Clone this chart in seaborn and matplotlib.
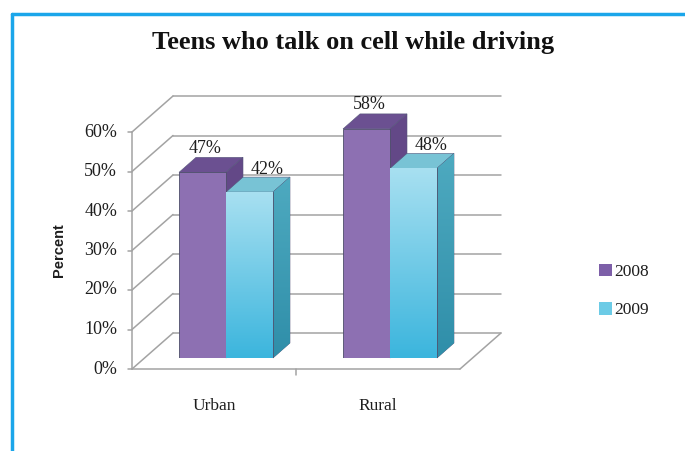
import numpy as np
import pandas as pd
import matplotlib
matplotlib.use("Agg")
import matplotlib.pyplot as plt
from matplotlib.patches import Polygon, Rectangle
from matplotlib.lines import Line2D
import seaborn as sns

# ---- data -------------------------------------------------------------
areas = ["Urban", "Rural"]
years = ["2008", "2009"]
pct_2008 = [47, 58]
pct_2009 = [42, 48]
ytick_values = [0, 10, 20, 30, 40, 50, 60]
ytick_labels = ["0%", "10%", "20%", "30%", "40%", "50%", "60%"]
title = "Teens who talk on cell while driving"
ylabel = "Percent"

df = pd.DataFrame({
    "area": areas * 2,
    "year": [years[0]] * 2 + [years[1]] * 2,
    "pct": pct_2008 + pct_2009,
})

# ---- style ------------------------------------------------------------
sns.set_theme(style="white")
plt.rcParams["font.family"] = ["Liberation Serif", "DejaVu Serif"]

front_col = {"2008": "#8d70b2", "2009": "#62c6e4"}
top_col = {"2008": "#6b5091", "2009": "#78c3d5"}
side_col = {"2008": "#634887", "2009": "#3c97b0"}
grid_col = "#a3a3a3"
frame_col = "#1ba6ea"
text_col = "#1e1e1e"

W, H = 685, 451
fig = plt.figure(figsize=(W / 100, H / 100), dpi=100)
ax = fig.add_axes([144 / W, 93 / H, 328 / W, 237 / H])

sns.barplot(data=df, x="area", y="pct", hue="year", order=areas,
            hue_order=years, palette=front_col, saturation=1,
            width=0.573, ax=ax, zorder=3, linewidth=0.6,
            edgecolor="#4d4d6a")
ax.set_xlim(-0.5, 1.5)
ax.set_ylim(0, 60)
ax.set_xticks([])
ax.set_yticks([])
ax.set_xlabel("")
ax.set_ylabel("")
for s in ax.spines.values():
    s.set_visible(False)
ax.patch.set_alpha(0)

# pixel offsets for the pseudo-3D planes (display y points up)
FRONT = (-12, -11)
BACK = (29, 25)
BAR_DEPTH = (17, 15)


def shift(x, y, off):
    px = ax.transData.transform((x, y)) + np.asarray(off, dtype=float)
    return ax.transData.inverted().transform(px)


def seg(p, q, **kw):
    kw.setdefault("color", grid_col)
    kw.setdefault("lw", 1.1)
    ax.add_line(Line2D([p[0], q[0]], [p[1], q[1]], clip_on=False,
                       zorder=1, **kw))


x_lo, x_hi = ax.get_xlim()
# back wall and left wall grid
for v in ytick_values:
    seg(shift(x_lo, v, BACK), shift(x_hi, v, BACK))
    seg(shift(x_lo, v, FRONT), shift(x_lo, v, BACK))
    # small tick on the front axis
    seg(shift(x_lo, v, FRONT), shift(x_lo, v, (FRONT[0] - 4, FRONT[1])))
# front left axis line
seg(shift(x_lo, 0, FRONT), shift(x_lo, ytick_values[-1], FRONT))
# floor
seg(shift(x_lo, 0, FRONT), shift(x_hi, 0, FRONT))
seg(shift(x_hi, 0, FRONT), shift(x_hi, 0, BACK))
seg(shift(0.5, 0, FRONT), shift(0.5, 0, (FRONT[0], FRONT[1] - 6)))

# y tick labels on the front plane
for v, lab in zip(ytick_values, ytick_labels):
    p = shift(x_lo, v, (FRONT[0] - 15, FRONT[1]))
    ax.text(p[0], p[1], lab, ha="right", va="center", fontsize=13,
            color=text_col, clip_on=False)

# category labels below the floor
for i, name in enumerate(areas):
    p = shift(i, 0, (FRONT[0], FRONT[1] - 37))
    ax.text(p[0], p[1], name, ha="center", va="center", fontsize=12.5,
            color=text_col, clip_on=False)

# ---- 3D faces, gradients and value labels ------------------------------
label_off = {"2008": (3, 24), "2009": (18, 23)}
grad = np.linspace(0, 1, 256).reshape(-1, 1)
front_grad = matplotlib.colors.LinearSegmentedColormap.from_list(
    "cyan", ["#a8e0f1", "#3bb5dd"])
side_grad = matplotlib.colors.LinearSegmentedColormap.from_list(
    "teal", ["#4eaac0", "#2f8ea9"])
for cont, yr in zip(ax.containers, years):
    for bar, val in zip(cont, df[df.year == yr]["pct"]):
        x0 = bar.get_x()
        x1 = x0 + bar.get_width()
        h = bar.get_height()
        tl = shift(x0, h, BAR_DEPTH)
        tr = shift(x1, h, BAR_DEPTH)
        br = shift(x1, 0, BAR_DEPTH)
        top = Polygon([(x0, h), (x1, h), tr, tl], closed=True,
                      facecolor=top_col[yr], edgecolor="#55557a",
                      lw=0.4, zorder=2, clip_on=False)
        side = Polygon([(x1, 0), (x1, h), tr, br], closed=True,
                       facecolor=side_col[yr], edgecolor="#55557a",
                       lw=0.4, zorder=2, clip_on=False)
        ax.add_patch(top)
        ax.add_patch(side)
        if yr == "2009":
            im = ax.imshow(grad, extent=(x0, x1, 0, h), origin="upper",
                           cmap=front_grad, aspect="auto", zorder=3.1)
            im.set_clip_path(bar)
            im2 = ax.imshow(grad, extent=(x1, br[0], 0, tr[1]),
                            origin="upper", cmap=side_grad, aspect="auto",
                            zorder=2.1)
            im2.set_clip_path(side)
        cx = (x0 + x1) / 2
        p = shift(cx, h, label_off[yr])
        ax.text(p[0], p[1], f"{val}%", ha="center", va="center",
                fontsize=13, color=text_col, zorder=5, clip_on=False)

ax.set_xlim(x_lo, x_hi)
ax.set_ylim(0, 60)

# legend at the right
sns.move_legend(ax, "center left", bbox_to_anchor=((599 - 144) / 328, (160 - 93) / 237),
                frameon=False, title=None, fontsize=12.5, handlelength=0.75,
                handleheight=0.75, handletextpad=0.15, labelspacing=1.25,
                borderpad=0, borderaxespad=0)
leg = ax.get_legend()
for t in leg.get_texts():
    t.set_color(text_col)
for hnd, yr in zip(leg.legend_handles, years):
    hnd.set_facecolor({"2008": "#7d5fa8", "2009": "#6ccbe6"}[yr])
    hnd.set_edgecolor("none")

# axis title and figure title
fig.text(59 / W, 1 - 250 / H, ylabel, rotation=90, ha="center", va="center",
         fontsize=10.5, fontweight="bold", color=text_col,
         family=["Liberation Sans", "DejaVu Sans"])
fig.text(353 / W, 1 - 42 / H, title, ha="center", va="center",
         fontsize=19, fontweight="bold", color="#111111")

# blue frame on top and left
fig.add_artist(Line2D([12 / W, 1], [1 - 14 / H, 1 - 14 / H],
                      transform=fig.transFigure, color=frame_col, lw=2.5))
fig.add_artist(Line2D([12 / W, 12 / W], [0, 1 - 14 / H],
                      transform=fig.transFigure, color=frame_col, lw=2.5))

fig.savefig("out.png", dpi=100, facecolor="white")
